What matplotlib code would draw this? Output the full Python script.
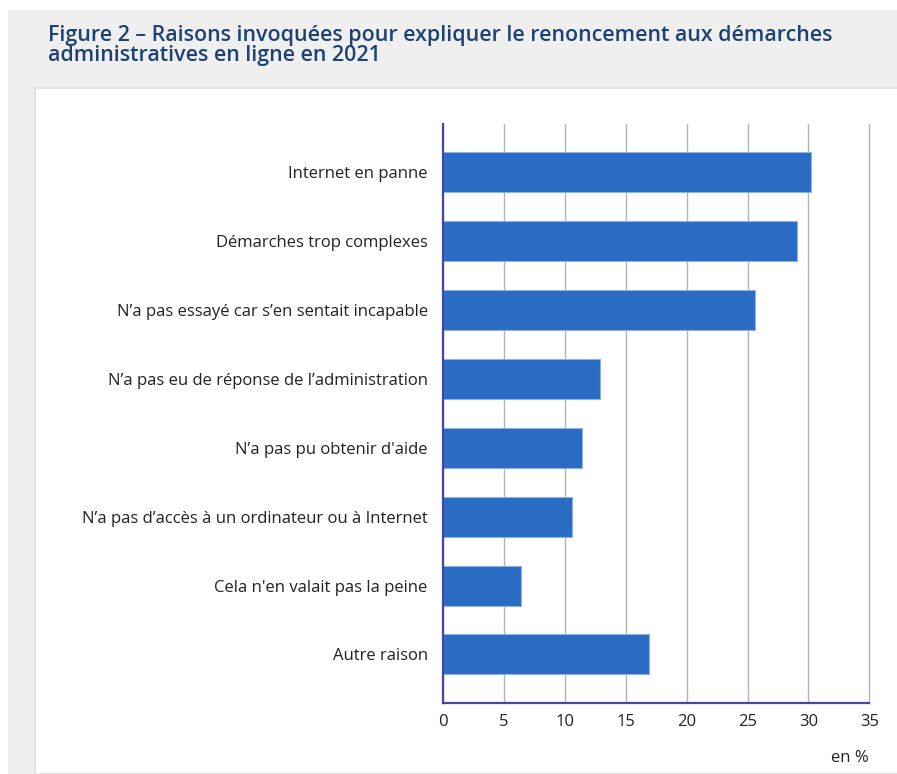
import matplotlib
matplotlib.use("Agg")
import matplotlib.pyplot as plt
from matplotlib.patches import Rectangle

plt.rcParams["font.family"] = ["Open Sans", "DejaVu Sans"]

# data
categories = [
    "Internet en panne",
    "Démarches trop complexes",
    "N’a pas essayé car s’en sentait incapable",
    "N’a pas eu de réponse de l’administration",
    "N’a pas pu obtenir d'aide",
    "N’a pas d’accès à un ordinateur ou à Internet",
    "Cela n'en valait pas la peine",
    "Autre raison",
]
values = [30.2, 29.1, 25.6, 12.9, 11.4, 10.6, 6.4, 16.9]
xticks = [0, 5, 10, 15, 20, 25, 30, 35]

W, H = 897, 774
fig = plt.figure(figsize=(W / 100, H / 100), dpi=100)
fig.patch.set_facecolor("white")

# grey panel + white chart box
fig.patches.append(Rectangle((8 / W, 0), 1, 1 - 10 / H, transform=fig.transFigure,
                             facecolor="#efefef", edgecolor="none", zorder=-3))
fig.patches.append(Rectangle((35 / W, 0), 1, 1 - 88 / H, transform=fig.transFigure,
                             facecolor="white", edgecolor="#dedede", linewidth=1.2, zorder=-2))

fig.text(48 / W, 1 - 25 / H,
         "Figure 2 – Raisons invoquées pour expliquer le renoncement aux démarches\n"
         "administratives en ligne en 2021",
         color="#1d4273", fontsize=15.4, fontweight="semibold", va="top", ha="left",
         linespacing=0.92)

ax = fig.add_axes([443 / W, 1 - 702.7 / H, (869.3 - 443) / W, (702.7 - 124) / H])
y = list(range(len(categories)))
ax.barh(y, values, height=0.58, color="#2a6bc4", edgecolor="#8fb2e3", linewidth=0.8, zorder=2)

ax.set_xlim(0, 35)
ax.set_ylim(len(categories) - 0.3, -0.7)
ax.set_xticks(xticks)
ax.set_xticklabels([str(t) for t in xticks])
ax.set_yticks(y)
ax.set_yticklabels(categories)
ax.tick_params(axis="both", length=0, labelsize=12, colors="#222222")
ax.tick_params(axis="y", pad=11)
ax.tick_params(axis="x", pad=8)
ax.grid(axis="x", color="#b3b3b3", linewidth=1, zorder=0)
for gl in ax.get_xgridlines():
    gl.set_clip_on(False)
for s in ["top", "right"]:
    ax.spines[s].set_visible(False)
for s in ["left", "bottom"]:
    ax.spines[s].set_color("#4646a4")
    ax.spines[s].set_linewidth(1.6)
    ax.spines[s].set_zorder(3)

fig.text(869 / W, 1 - 758 / H, "en %", ha="right", va="center", fontsize=12, color="#222222")

fig.savefig("out.png", dpi=100)
